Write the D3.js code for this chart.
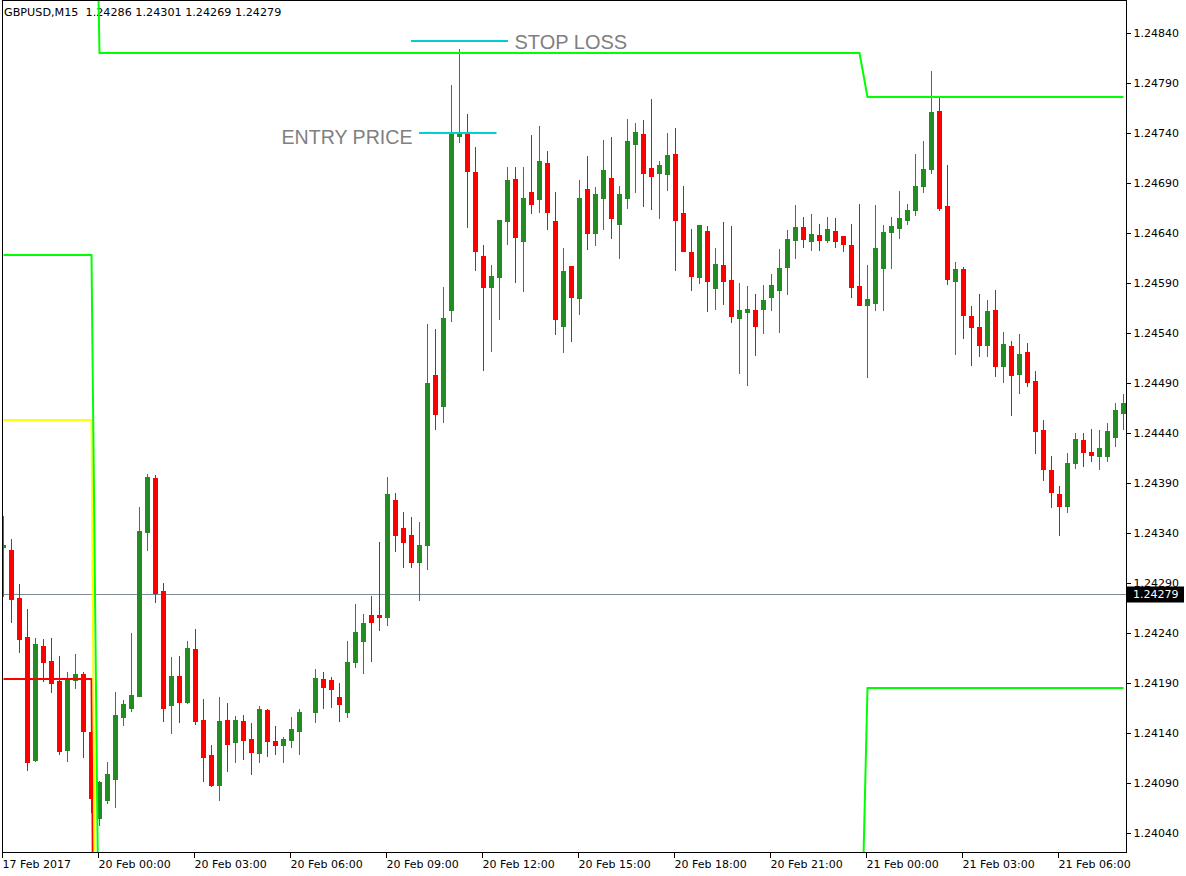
<!DOCTYPE html>
<html>
<head>
<meta charset="utf-8">
<script src="https://cdn.jsdelivr.net/npm/d3@7"></script>
<style>
  html, body { margin: 0; padding: 0; background: #fff; }
  svg { display: block; }
</style>
</head>
<body>
<svg id="chart" width="1186" height="876"></svg>
<script>
// ---------------- DATA ----------------
const symbolHeader = "GBPUSD,M15  1.24286 1.24301 1.24269 1.24279";
const currentPrice = 1.24279;

// bar 38 is blank in the picture (null)
const opens = [1.24326,1.24323,1.24275,1.24236,1.24113,1.24227,1.24212,1.24192,1.24123,1.24193,1.24199,1.24141,1.24055,1.24073,1.24094,1.24156,1.24165,1.24177,1.24341,1.24395,1.24282,1.24168,1.24197,1.24171,1.24224,1.24153,1.24118,1.24088,1.24153,1.24131,1.24152,1.24134,1.24120,1.24163,1.24132,1.24128,1.24133,1.24142,null,1.24161,1.24194,1.24193,1.24176,1.24161,1.24211,1.24232,1.24258,1.24258,1.24256,1.24373,1.24345,1.24338,1.24311,1.24328,1.24498,1.24467,1.24563,1.24737,1.24740,1.24701,1.24617,1.24586,1.24596,1.24652,1.24694,1.24632,1.24681,1.24674,1.24710,1.24652,1.24547,1.24607,1.24575,1.24684,1.24640,1.24675,1.24695,1.24649,1.24675,1.24729,1.24739,1.24705,1.24700,1.24699,1.24719,1.24660,1.24621,1.24596,1.24642,1.24585,1.24608,1.24593,1.24555,1.24561,1.24563,1.24564,1.24576,1.24583,1.24606,1.24633,1.24646,1.24632,1.24638,1.24633,1.24642,1.24637,1.24628,1.24587,1.24568,1.24570,1.24605,1.24641,1.24645,1.24653,1.24663,1.24687,1.24704,1.24762,1.24667,1.24592,1.24604,1.24557,1.24546,1.24528,1.24563,1.24507,1.24527,1.24499,1.24521,1.24492,1.24443,1.24403,1.24379,1.24367,1.24410,1.24433,1.24421,1.24417,1.24417,1.24436,1.24460];
const highs = [1.24357,1.24334,1.24289,1.24264,1.24235,1.24234,1.24235,1.24217,1.24201,1.24219,1.24201,1.24148,1.24092,1.24111,1.24181,1.24173,1.24240,1.24366,1.24399,1.24398,1.24290,1.24216,1.24217,1.24232,1.24244,1.24174,1.24128,1.24176,1.24170,1.24157,1.24158,1.24150,1.24167,1.24164,1.24147,1.24136,1.24156,1.24164,null,1.24204,1.24201,1.24196,1.24190,1.24232,1.24269,1.24259,1.24277,1.24331,1.24396,1.24380,1.24361,1.24356,1.24351,1.24549,1.24544,1.24586,1.24788,1.24824,1.24759,1.24726,1.24628,1.24608,1.24653,1.24706,1.24706,1.24706,1.24738,1.24747,1.24722,1.24681,1.24625,1.24607,1.24693,1.24717,1.24686,1.24733,1.24736,1.24687,1.24754,1.24750,1.24753,1.24774,1.24712,1.24740,1.24745,1.24687,1.24644,1.24648,1.24647,1.24625,1.24651,1.24647,1.24590,1.24587,1.24579,1.24588,1.24599,1.24624,1.24643,1.24668,1.24656,1.24659,1.24649,1.24656,1.24655,1.24637,1.24649,1.24669,1.24608,1.24668,1.24648,1.24656,1.24682,1.24669,1.24719,1.24732,1.24802,1.24777,1.24708,1.24611,1.24606,1.24567,1.24579,1.24573,1.24583,1.24541,1.24532,1.24539,1.24530,1.24502,1.24453,1.24417,1.24387,1.24420,1.24440,1.24440,1.24444,1.24443,1.24450,1.24470,1.24479];
const lows = [1.24277,1.24251,1.24221,1.24103,1.24112,1.24192,1.24181,1.24119,1.24112,1.24185,1.24116,1.24061,1.24048,1.24070,1.24066,1.24148,1.24162,1.24177,1.24323,1.24271,1.24152,1.24140,1.24151,1.24170,1.24149,1.24092,1.24087,1.24073,1.24102,1.24111,1.24114,1.24099,1.24111,1.24117,1.24119,1.24111,1.24126,1.24119,null,1.24151,1.24165,1.24166,1.24152,1.24156,1.24206,1.24200,1.24212,1.24243,1.24248,1.24322,1.24306,1.24306,1.24273,1.24304,1.24444,1.24451,1.24552,1.24731,1.24646,1.24603,1.24503,1.24522,1.24554,1.24629,1.24591,1.24582,1.24660,1.24661,1.24644,1.24539,1.24521,1.24532,1.24559,1.24624,1.24628,1.24644,1.24635,1.24615,1.24665,1.24681,1.24667,1.24664,1.24655,1.24683,1.24603,1.24622,1.24583,1.24590,1.24562,1.24564,1.24569,1.24551,1.24500,1.24488,1.24518,1.24540,1.24563,1.24541,1.24579,1.24615,1.24626,1.24623,1.24623,1.24631,1.24626,1.24622,1.24576,1.24568,1.24496,1.24563,1.24563,1.24605,1.24635,1.24649,1.24658,1.24681,1.24700,1.24663,1.24589,1.24519,1.24535,1.24508,1.24517,1.24517,1.24497,1.24491,1.24458,1.24480,1.24487,1.24420,1.24393,1.24366,1.24338,1.24361,1.24405,1.24407,1.24412,1.24404,1.24412,1.24427,1.24444];
const closes = [1.24328,1.24274,1.24234,1.24111,1.24229,1.24211,1.24190,1.24122,1.24195,1.24199,1.24142,1.24075,1.24091,1.24099,1.24158,1.24169,1.24178,1.24342,1.24396,1.24280,1.24165,1.24197,1.24171,1.24225,1.24152,1.24116,1.24088,1.24152,1.24129,1.24153,1.24133,1.24121,1.24164,1.24132,1.24128,1.24134,1.24144,1.24161,null,1.24195,1.24186,1.24184,1.24169,1.24211,1.24241,1.24250,1.24251,1.24256,1.24379,1.24338,1.24331,1.24311,1.24328,1.24490,1.24459,1.24555,1.24740,1.24740,1.24702,1.24622,1.24586,1.24597,1.24653,1.24693,1.24636,1.24675,1.24669,1.24712,1.24661,1.24554,1.24602,1.24576,1.24675,1.24640,1.24679,1.24703,1.24655,1.24679,1.24732,1.24741,1.24700,1.24697,1.24708,1.24718,1.24653,1.24622,1.24597,1.24648,1.24592,1.24609,1.24592,1.24557,1.24563,1.24564,1.24547,1.24573,1.24588,1.24605,1.24634,1.24646,1.24634,1.24639,1.24633,1.24644,1.24632,1.24629,1.24586,1.24568,1.24574,1.24625,1.24641,1.24647,1.24655,1.24663,1.24687,1.24704,1.24761,1.24665,1.24594,1.24604,1.24558,1.24546,1.24528,1.24562,1.24507,1.24529,1.24498,1.24519,1.24491,1.24442,1.24404,1.24381,1.24367,1.24410,1.24434,1.24421,1.24418,1.24425,1.24442,1.24463,1.24470];

// daily indicator levels (bar index where each day starts)
const dayStarts   = [0, 12, 108];
const upperGreen  = [1.25273, 1.24820, 1.24776];
const lowerGreen  = [1.24618, 1.23848, 1.24185];
const yellowLevel = [1.24453, 1.23338, 1.23338];
const redLevel    = [1.24194, 1.23041, 1.23041];

const priceTicks = [1.24840,1.24790,1.24740,1.24690,1.24640,1.24590,1.24540,1.24490,1.24440,1.24390,1.24340,1.24290,1.24240,1.24190,1.24140,1.24090,1.24040];
const timeTickIdx = [0,12,24,36,48,60,72,84,96,108,120,132];
const timeLabels = ["17 Feb 2017","20 Feb 00:00","20 Feb 03:00","20 Feb 06:00","20 Feb 09:00","20 Feb 12:00","20 Feb 15:00","20 Feb 18:00","20 Feb 21:00","21 Feb 00:00","21 Feb 03:00","21 Feb 06:00"];

const entryPrice = 1.24740, stopLoss = 1.24832;
const entryBars = [52, 62];   // span of entry marker (bar positions)
const stopBars  = [51, 63];

// ---------------- CHART ----------------
const svg = d3.select("#chart");
const L = 2, R = 1126, T = 0, B = 852;
const n = opens.length;

const x = d3.scaleLinear().domain([0, 1]).range([3.5, 11.5]);
const y = d3.scaleLinear().domain([1.24023, 1.24873]).range([850, 0]);

svg.append("defs").append("clipPath").attr("id", "plotClip")
  .append("rect").attr("x", L + 0.5).attr("y", T).attr("width", R - L - 0.5).attr("height", B - T);

// header
svg.append("text").attr("x", 4).attr("y", 16)
  .attr("font-family", "DejaVu Sans, Verdana, sans-serif").attr("font-size", 11.2)
  .style("white-space", "pre").attr("xml:space", "preserve")
  .attr("fill", "#000").text(symbolHeader);

const plot = svg.append("g").attr("clip-path", "url(#plotClip)");

// current price line
plot.append("line").attr("x1", L).attr("x2", R)
  .attr("y1", Math.round(y(currentPrice)) + 0.5).attr("y2", Math.round(y(currentPrice)) + 0.5)
  .attr("stroke", "#808a94").attr("stroke-width", 1);

// candles
const bars = d3.range(n).filter(i => opens[i] !== null)
  .map(i => ({ i, o: opens[i], h: highs[i], l: lows[i], c: closes[i] }));
const cg = plot.append("g").attr("shape-rendering", "crispEdges");
bars.forEach(d => {
  const col = d.c >= d.o ? "#228b22" : "#ff0000";
  const cx = x(d.i);
  cg.append("line").attr("x1", cx).attr("x2", cx)
    .attr("y1", Math.round(y(d.h))).attr("y2", Math.round(y(d.l)) + 1)
    .attr("stroke", col).attr("stroke-width", 1);
  const yt = Math.round(y(Math.max(d.o, d.c)));
  const yb = Math.round(y(Math.min(d.o, d.c)));
  cg.append("rect").attr("x", cx - 2.5).attr("y", yt)
    .attr("width", 5).attr("height", Math.max(1, yb - yt + 1)).attr("fill", col);
});

// indicator step lines
function daySeries(levels) {
  return d3.range(n).map(i => {
    let k = 0;
    for (let j = 0; j < dayStarts.length; j++) if (i >= dayStarts[j]) k = j;
    return { i, v: levels[k] };
  });
}
const lineGen = d3.line().x(d => x(d.i)).y(d => y(d.v));
[[redLevel, "#ff0000"], [yellowLevel, "#ffff00"], [lowerGreen, "#00ff00"], [upperGreen, "#00ff00"]]
  .forEach(([lv, col]) => {
    plot.append("path").datum(daySeries(lv)).attr("d", lineGen)
      .attr("fill", "none").attr("stroke", col).attr("stroke-width", 2);
  });

// entry / stop loss markers
const cyan = "#00ced1";
plot.append("line").attr("x1", x(stopBars[0]) - 0.5).attr("x2", x(stopBars[1]) + 0.5)
  .attr("y1", y(stopLoss)).attr("y2", y(stopLoss)).attr("stroke", cyan).attr("stroke-width", 2);
plot.append("line").attr("x1", x(entryBars[0]) - 0.5).attr("x2", x(entryBars[1]) - 3)
  .attr("y1", y(entryPrice)).attr("y2", y(entryPrice)).attr("stroke", cyan).attr("stroke-width", 2);
plot.append("text").attr("x", x(stopBars[1]) + 7).attr("y", y(stopLoss) + 7.5)
  .attr("font-family", "Liberation Sans, Arial, sans-serif").attr("font-size", 20)
  .attr("fill", "#808080").text("STOP LOSS");
plot.append("text").attr("x", x(entryBars[0]) - 7).attr("y", y(entryPrice) + 10.5)
  .attr("text-anchor", "end")
  .attr("font-family", "Liberation Sans, Arial, sans-serif").attr("font-size", 19.6)
  .attr("fill", "#808080").text("ENTRY PRICE");

// frame
svg.append("rect").attr("x", L + 0.5).attr("y", T + 0.5).attr("width", R - L).attr("height", B - T)
  .attr("fill", "none").attr("stroke", "#000").attr("stroke-width", 1).attr("shape-rendering", "crispEdges");

// price axis
const yAxis = d3.axisRight(y).tickValues(priceTicks).tickFormat(d3.format(".5f")).tickSize(4).tickPadding(3);
const ya = svg.append("g").attr("transform", `translate(${R + 0.5},0)`).call(yAxis);
ya.select(".domain").remove();
ya.selectAll("line").attr("stroke", "#000").attr("shape-rendering", "crispEdges");
ya.selectAll("text").attr("font-family", "DejaVu Sans, Verdana, sans-serif").attr("font-size", 11).attr("fill", "#000");
ya.selectAll(".tick").attr("transform", d => `translate(0,${Math.round(y(d)) + 0.5})`);

// current price box
const cpY = Math.round(y(currentPrice)) + 0.5;
svg.append("rect").attr("x", R + 1).attr("y", cpY - 8).attr("width", 57).attr("height", 16).attr("fill", "#000");
svg.append("text").attr("x", R + 7).attr("y", cpY).attr("dy", "0.35em")
  .attr("font-family", "DejaVu Sans, Verdana, sans-serif").attr("font-size", 11)
  .attr("fill", "#fff").text(d3.format(".5f")(currentPrice));

// time axis
const xAxis = d3.axisBottom(x).tickValues(timeTickIdx).tickFormat((d, k) => timeLabels[k]).tickSize(5).tickPadding(3);
const xa = svg.append("g").attr("transform", `translate(0,${B + 0.5})`).call(xAxis);
xa.select(".domain").remove();
xa.selectAll("line").attr("stroke", "#000").attr("shape-rendering", "crispEdges");
xa.selectAll(".tick").attr("transform", d => `translate(${Math.floor(x(d)) - 0.5},0)`);
xa.selectAll("text").attr("text-anchor", "start").attr("x", 0)
  .attr("font-family", "DejaVu Sans, Verdana, sans-serif").attr("font-size", 11).attr("fill", "#000");
</script>
</body>
</html>
